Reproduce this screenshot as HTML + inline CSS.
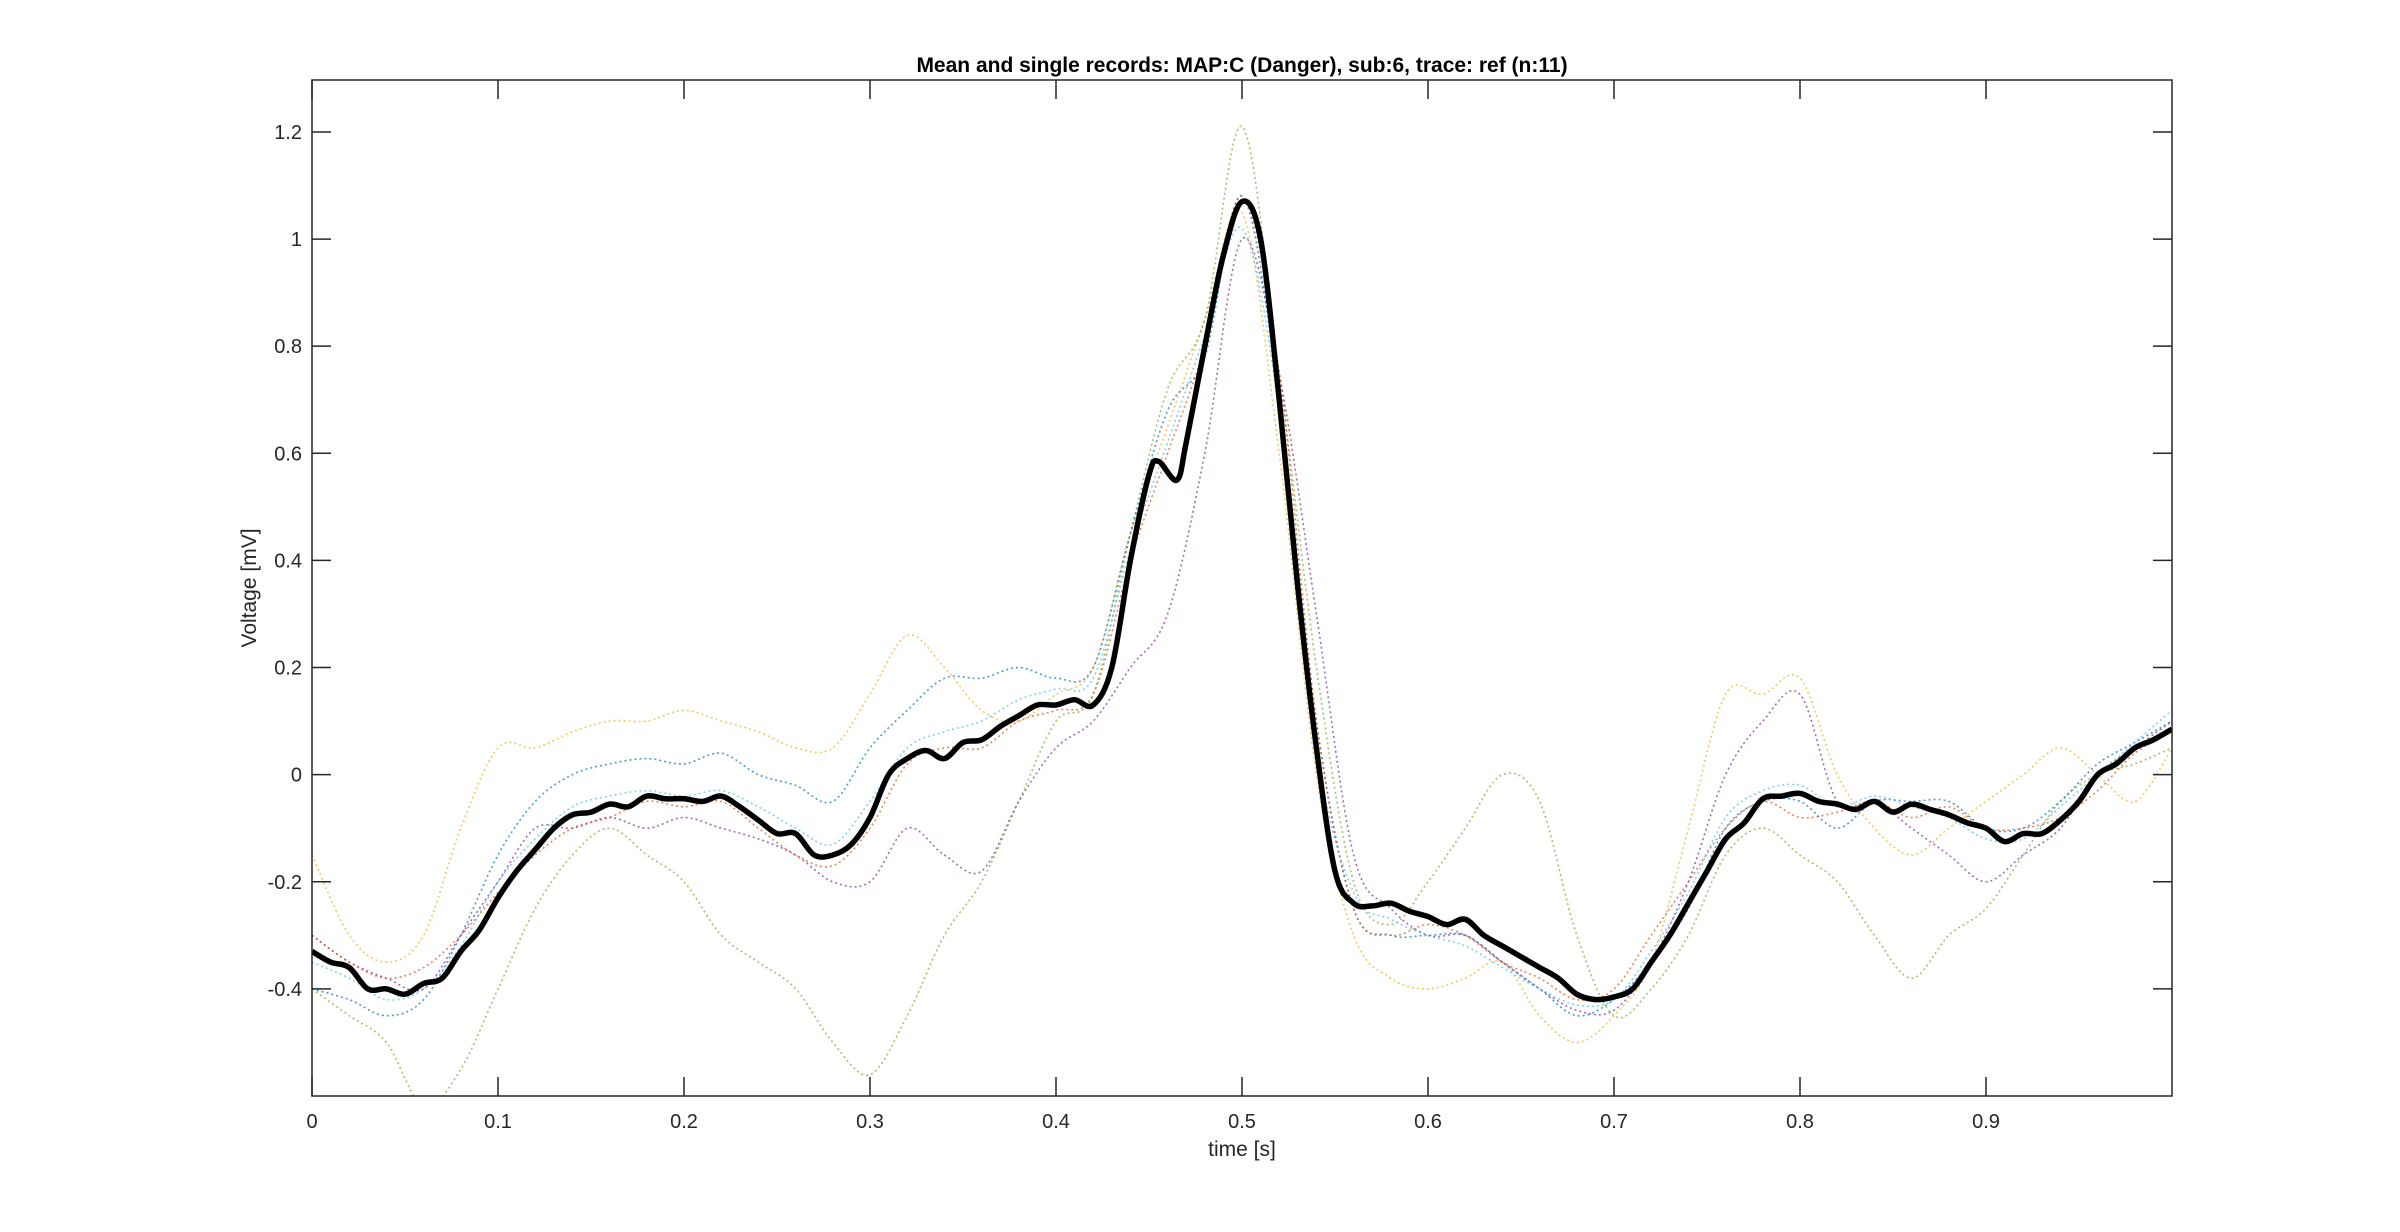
<!DOCTYPE html>
<html><head><meta charset="utf-8"><style>
html,body{margin:0;padding:0;background:#fff;}
svg{display:block;font-family:"Liberation Sans",Arial,sans-serif;}
</style></head><body>
<svg id="chart" width="2400" height="1232" viewBox="0 0 2400 1232" xmlns="http://www.w3.org/2000/svg">
<rect x="0" y="0" width="2400" height="1232" fill="#fff"/>
<g id="plot"></g>
<g id="axes"></g>
<text x="1242" y="72" text-anchor="middle" font-size="21" font-weight="bold" fill="#000">Mean and single records: MAP:C (Danger), sub:6, trace: ref (n:11)</text>
<text x="1242" y="1156" text-anchor="middle" font-size="21" fill="#262626">time [s]</text>
<text transform="translate(256,588) rotate(-90)" text-anchor="middle" font-size="21" fill="#262626">Voltage [mV]</text>
</svg>
<script>
const xTicks=[0,0.1,0.2,0.3,0.4,0.5,0.6,0.7,0.8,0.9];
const xTickLabels=["0","0.1","0.2","0.3","0.4","0.5","0.6","0.7","0.8","0.9"];
const yTicks=[-0.4,-0.2,0,0.2,0.4,0.6,0.8,1,1.2];
const yTickLabels=["-0.4","-0.2","0","0.2","0.4","0.6","0.8","1","1.2"];
const meanT=[0,0.01,0.02,0.03,0.04,0.05,0.06,0.07,0.08,0.09,0.10,0.11,0.12,0.13,0.14,0.15,0.16,0.17,0.18,0.19,0.20,0.21,0.22,0.23,0.24,0.25,0.26,0.27,0.28,0.29,0.30,0.31,0.32,0.33,0.34,0.35,0.36,0.37,0.38,0.39,0.40,0.41,0.42,0.43,0.44,0.45,0.455,0.465,0.47,0.48,0.49,0.50,0.51,0.52,0.53,0.54,0.55,0.56,0.57,0.58,0.59,0.60,0.61,0.62,0.63,0.64,0.65,0.66,0.67,0.68,0.69,0.70,0.71,0.72,0.73,0.74,0.75,0.76,0.77,0.78,0.79,0.80,0.81,0.82,0.83,0.84,0.85,0.86,0.87,0.88,0.89,0.90,0.91,0.92,0.93,0.94,0.95,0.96,0.97,0.98,0.99,1.0];
const meanV=[-0.33,-0.35,-0.36,-0.40,-0.40,-0.41,-0.39,-0.38,-0.33,-0.29,-0.23,-0.18,-0.14,-0.10,-0.075,-0.07,-0.055,-0.06,-0.04,-0.045,-0.045,-0.05,-0.04,-0.06,-0.085,-0.11,-0.11,-0.15,-0.15,-0.13,-0.08,0.00,0.03,0.045,0.03,0.06,0.065,0.09,0.11,0.13,0.13,0.14,0.13,0.20,0.40,0.56,0.585,0.55,0.62,0.80,0.97,1.07,1.00,0.70,0.35,0.05,-0.18,-0.24,-0.245,-0.24,-0.255,-0.265,-0.28,-0.27,-0.30,-0.32,-0.34,-0.36,-0.38,-0.41,-0.42,-0.415,-0.40,-0.35,-0.30,-0.24,-0.18,-0.12,-0.09,-0.045,-0.04,-0.035,-0.05,-0.055,-0.065,-0.05,-0.07,-0.055,-0.065,-0.075,-0.09,-0.10,-0.125,-0.11,-0.11,-0.085,-0.05,0.00,0.02,0.05,0.065,0.085];
const recT=[0,0.02,0.04,0.06,0.08,0.10,0.12,0.14,0.16,0.18,0.20,0.22,0.24,0.26,0.28,0.30,0.32,0.34,0.36,0.38,0.40,0.42,0.44,0.46,0.48,0.50,0.52,0.54,0.56,0.58,0.60,0.62,0.64,0.66,0.68,0.70,0.72,0.74,0.76,0.78,0.80,0.82,0.84,0.86,0.88,0.90,0.92,0.94,0.96,0.98,1.0];
const rec1=[-0.15,-0.3,-0.35,-0.3,-0.1,0.05,0.05,0.08,0.1,0.1,0.12,0.1,0.08,0.05,0.05,0.15,0.26,0.2,0.12,0.1,0.15,0.2,0.45,0.65,0.85,1.05,0.6,0.0,-0.3,-0.38,-0.4,-0.38,-0.35,-0.45,-0.5,-0.45,-0.35,-0.1,0.15,0.15,0.18,0.0,-0.1,-0.15,-0.1,-0.05,0.0,0.05,0.0,-0.05,0.05];
const rec2=[-0.4,-0.45,-0.5,-0.62,-0.55,-0.4,-0.25,-0.15,-0.1,-0.15,-0.2,-0.3,-0.35,-0.4,-0.5,-0.56,-0.45,-0.3,-0.2,-0.05,0.1,0.15,0.45,0.72,0.85,1.21,0.75,0.2,-0.2,-0.28,-0.2,-0.1,0.0,-0.05,-0.3,-0.45,-0.4,-0.3,-0.15,-0.1,-0.15,-0.2,-0.3,-0.38,-0.3,-0.25,-0.15,-0.05,0.0,0.02,0.05];
const rec3=[-0.3,-0.35,-0.38,-0.4,-0.3,-0.2,-0.1,-0.1,-0.08,-0.1,-0.08,-0.1,-0.12,-0.15,-0.2,-0.2,-0.1,-0.15,-0.18,-0.05,0.05,0.1,0.2,0.3,0.6,1.0,0.75,0.3,-0.15,-0.25,-0.3,-0.3,-0.35,-0.4,-0.44,-0.44,-0.35,-0.2,0.0,0.1,0.15,-0.05,-0.05,-0.1,-0.15,-0.2,-0.15,-0.1,0.0,0.05,0.1];
const rec4=[-0.4,-0.42,-0.45,-0.42,-0.3,-0.15,-0.05,0.0,0.02,0.03,0.02,0.04,0.0,-0.02,-0.05,0.05,0.12,0.18,0.18,0.2,0.18,0.2,0.45,0.68,0.78,1.08,0.7,0.1,-0.25,-0.3,-0.3,-0.3,-0.35,-0.4,-0.45,-0.42,-0.35,-0.25,-0.1,-0.05,-0.05,-0.1,-0.05,-0.05,-0.05,-0.1,-0.1,-0.05,0.02,0.06,0.1];
const rec5=[-0.3,-0.35,-0.38,-0.36,-0.3,-0.22,-0.15,-0.1,-0.08,-0.05,-0.06,-0.05,-0.1,-0.15,-0.17,-0.1,0.02,0.05,0.05,0.1,0.12,0.15,0.4,0.6,0.8,1.08,0.75,0.1,-0.25,-0.3,-0.28,-0.3,-0.35,-0.38,-0.42,-0.4,-0.3,-0.2,-0.1,-0.05,-0.08,-0.07,-0.05,-0.08,-0.06,-0.1,-0.1,-0.08,-0.03,0.04,0.08];
const rec6=[-0.35,-0.38,-0.42,-0.4,-0.32,-0.2,-0.12,-0.06,-0.04,-0.03,-0.04,-0.03,-0.06,-0.1,-0.13,-0.05,0.05,0.08,0.1,0.14,0.16,0.18,0.42,0.62,0.82,1.02,0.68,0.05,-0.22,-0.27,-0.3,-0.32,-0.36,-0.4,-0.43,-0.42,-0.33,-0.22,-0.08,-0.03,-0.02,-0.06,-0.04,-0.06,-0.08,-0.12,-0.12,-0.06,0.0,0.06,0.12];
const records=[rec1,rec2,rec3,rec4,rec5,rec6];
const recColors=["#EDB120","#77AC30","#7E2F8E","#0072BD","#D95319","#4DBEEE"];

const L=312,R=2172,T=80,B=1096,YMIN=-0.6,YMAX=1.297;
const NS="http://www.w3.org/2000/svg";
function xs(t){return L+(t-0)/(1-0)*(R-L);}
function ys(v){return B-(v-YMIN)/(YMAX-YMIN)*(B-T);}
function smoothPath(tx,vy){
  const p=tx.map((t,i)=>[xs(t),ys(vy[i])]);
  let d="M"+p[0][0].toFixed(1)+","+p[0][1].toFixed(1);
  for(let i=0;i<p.length-1;i++){
    const p0=p[Math.max(0,i-1)],p1=p[i],p2=p[i+1],p3=p[Math.min(p.length-1,i+2)];
    const c1=[p1[0]+(p2[0]-p0[0])/6,p1[1]+(p2[1]-p0[1])/6];
    const c2=[p2[0]-(p3[0]-p1[0])/6,p2[1]-(p3[1]-p1[1])/6];
    d+="C"+c1[0].toFixed(1)+","+c1[1].toFixed(1)+" "+c2[0].toFixed(1)+","+c2[1].toFixed(1)+" "+p2[0].toFixed(1)+","+p2[1].toFixed(1);
  }
  return d;
}
const plot=document.getElementById('plot');
const axes=document.getElementById('axes');
const clip=document.createElementNS(NS,'clipPath');clip.setAttribute('id','clip');
const cr=document.createElementNS(NS,'rect');cr.setAttribute('x',L);cr.setAttribute('y',T);cr.setAttribute('width',R-L);cr.setAttribute('height',B-T);
clip.appendChild(cr);document.getElementById('chart').appendChild(clip);
plot.setAttribute('clip-path','url(#clip)');
records.forEach((r,i)=>{
  const p=document.createElementNS(NS,'path');
  
  
  p.setAttribute('d',smoothPath(recT,r));
  p.setAttribute('fill','none');p.setAttribute('stroke',recColors[i]);
  p.setAttribute('stroke-width','1.6');p.setAttribute('stroke-dasharray','2 3');p.setAttribute('opacity','0.7');
  plot.appendChild(p);
});
const mp=document.createElementNS(NS,'path');


mp.setAttribute('d',smoothPath(meanT,meanV));
mp.setAttribute('fill','none');mp.setAttribute('stroke','#000');mp.setAttribute('stroke-width','5.5');mp.setAttribute('stroke-linejoin','round');
plot.appendChild(mp);
const box=document.createElementNS(NS,'rect');


box.setAttribute('x',L);box.setAttribute('y',T);box.setAttribute('width',R-L);box.setAttribute('height',B-T);
box.setAttribute('fill','none');box.setAttribute('stroke','#262626');box.setAttribute('stroke-width','1.5');
axes.appendChild(box);
function line(x1,y1,x2,y2,name){const l=document.createElementNS(NS,'line');


l.setAttribute('x1',x1);l.setAttribute('y1',y1);l.setAttribute('x2',x2);l.setAttribute('y2',y2);l.setAttribute('stroke','#262626');l.setAttribute('stroke-width','1.5');axes.appendChild(l);}
function text(x,y,s,anchor,name){const t=document.createElementNS(NS,'text');


t.setAttribute('x',x);t.setAttribute('y',y);t.setAttribute('text-anchor',anchor);t.setAttribute('font-size','20');t.setAttribute('fill','#262626');t.textContent=s;axes.appendChild(t);}
xTicks.forEach((t,i)=>{const x=xs(t);line(x,B,x,B-19,'x-tick');line(x,T,x,T+19,'x-tick-top');text(x,B+32,xTickLabels[i],'middle','x-tick-label');});
yTicks.forEach((v,i)=>{const y=ys(v);line(L,y,L+19,y,'y-tick');line(R,y,R-19,y,'y-tick-right');text(L-10,y+7,yTickLabels[i],'end','y-tick-label');});
</script>
</body></html>
